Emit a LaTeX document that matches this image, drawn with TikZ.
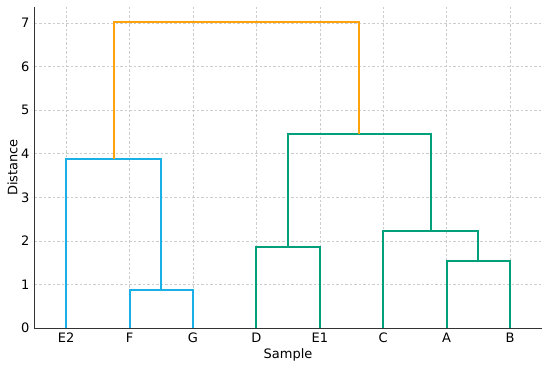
\documentclass[tikz,border=0pt]{standalone}
\usepackage{fontspec}
\setmainfont{DejaVu Sans}
\usepackage{tikz}
\usetikzlibrary{positioning, calc}
\definecolor{Clust1}{HTML}{1AAFE6}
\definecolor{Clust2}{HTML}{00A07A}
\definecolor{RootLink}{HTML}{FFA30A}
\definecolor{GridGray}{HTML}{CCCCCC}
\definecolor{Spine}{HTML}{333333}
\begin{document}
\begin{tikzpicture}[x=1pt, y=1pt,
          link/.style={line width=2pt},
          gridln/.style={draw=GridGray, line width=0.6pt, dash pattern=on 2.5pt off 2pt},
          spine/.style={draw=Spine, line width=1pt},
          ticklbl/.style={font=\fontsize{13}{15}\selectfont, text=black, inner sep=0pt},
          axlbl/.style={font=\fontsize{13}{15}\selectfont, text=black, inner sep=0pt}
        ]
          \useasboundingbox (0,0) rectangle (550,368);
          \begin{scope}[shift={(34.5,40)}, x=6.34pt, y=43.57pt]
            % grid
            \foreach \xx in {5,15,...,75} \draw[gridln] (\xx,0) -- (\xx,7.37);
            \foreach \yy in {1,...,7} \draw[gridln] (0,\yy) -- (80,\yy);
            % axes
            \coordinate (org) at (0,0);
            \coordinate (ytop) at (0,7.37);
            \coordinate (xend) at (80,0);
            \draw[spine] (ytop) -- (org) -- (xend);
            \foreach \yy in {0,...,7} \node[ticklbl, anchor=east] (ytick\yy) at ($(0,\yy)+(-5pt,0)$) {\yy};
            % leaves
            \foreach \lf/\xx in {E2/5, F/15, G/25, D/35, E1/45, C/55, A/65, B/75} {
              \coordinate (\lf) at (\xx,0);
              \node[ticklbl, anchor=north] (lbl\lf) at ($(\lf)+(0,-5pt)$) {\lf};
            }
            % merge points
            \coordinate (FG) at (20,0.87);
            \coordinate (EFG) at (12.5,3.88);
            \coordinate (DE) at (40,1.87);
            \coordinate (AB) at (70,1.54);
            \coordinate (CAB) at (62.5,2.22);
            \coordinate (DECAB) at (51.25,4.46);
            \coordinate (root) at (31.875,7.02);
            % links
            \draw[link, Clust1] (F) |- (FG) -| (G);
            \draw[link, Clust1] (E2) |- (EFG) -| (FG);
            \draw[link, Clust2] (D) |- (DE) -| (E1);
            \draw[link, Clust2] (A) |- (AB) -| (B);
            \draw[link, Clust2] (C) |- (CAB) -| (AB);
            \draw[link, Clust2] (DE) |- (DECAB) -| (CAB);
            \draw[link, RootLink] (EFG) |- (root) -| (DECAB);
            % axis labels
            \node[axlbl] (xlab) at ($(40,0)+(0,-27pt)$) {Sample};
            \node[axlbl, rotate=90] (ylab) at ($(0,3.685)+(-22pt,0)$) {Distance};
          \end{scope}
        \end{tikzpicture}
\end{document}
